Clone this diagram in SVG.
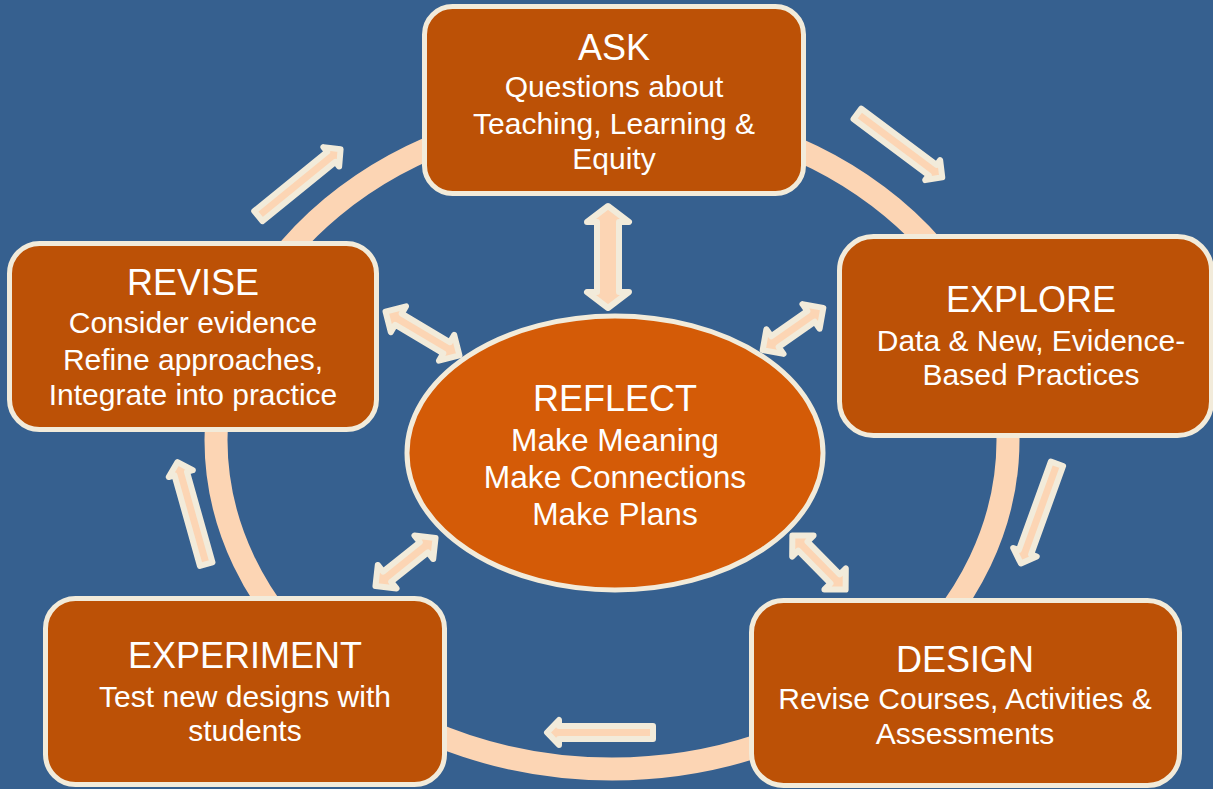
<svg xmlns="http://www.w3.org/2000/svg" xmlns:xlink="http://www.w3.org/1999/xlink" width="1213" height="789" viewBox="0 0 1213 789">
  <defs>
    <style>
      .bg { fill: #36608f; }
      .ring { fill: none; stroke: #fcd5b4; stroke-width: 23; }
      .box { fill: #bc5106; stroke: #f2ebda; stroke-width: 5; }
      .hub { fill: #d45b07; stroke: #f2ebda; stroke-width: 5; }
      .arrow { fill: #fcd5b4; stroke: #f2ebda; stroke-width: 6; stroke-linejoin: round; }
      text { font-family: "Liberation Sans", Arial, sans-serif; fill: #ffffff; text-anchor: middle; }
      .title { font-size: 36px; }
      .body { font-size: 30px; }
      .hub-body { font-size: 31.7px; }
    </style>
    <!-- one-way cycle arrow, tail at origin, pointing along +x -->
    <path id="step-arrow" d="M3,-6.5 H97 V-12.5 L109,0 L97,12.5 V6.5 H3 Z"/>
  </defs>

  <rect class="bg" x="0" y="0" width="1213" height="789"/>

  <!-- cycle ring behind the stage boxes -->
  <g id="cycle-ring">
    <ellipse class="ring" cx="612" cy="440" rx="396" ry="329"/>
  </g>

  <g id="connectors">
    <!-- one-way arrows around the cycle -->
    <use class="arrow" xlink:href="#step-arrow" href="#step-arrow" transform="translate(855,112) rotate(36.8)"/>
    <use class="arrow" xlink:href="#step-arrow" href="#step-arrow" transform="translate(1058,461) rotate(109.9)"/>
    <use class="arrow" xlink:href="#step-arrow" href="#step-arrow" transform="translate(656,732.5) rotate(180)"/>
    <use class="arrow" xlink:href="#step-arrow" href="#step-arrow" transform="translate(207,567) rotate(-105.7)"/>
    <use class="arrow" xlink:href="#step-arrow" href="#step-arrow" transform="translate(256,218) rotate(-39.1)"/>

    <!-- two-way arrows between REFLECT and each stage -->
    <path class="arrow" transform="translate(608,257) rotate(90)"
          d="M-51,0 L-35,-21 V-11 H35 V-21 L51,0 L35,21 V11 H-35 V21 Z"/>
    <path class="arrow" transform="translate(793,329) rotate(-34.9)"
          d="M-37,0 L-22,-15 V-6.5 H22 V-15 L37,0 L22,15 V6.5 H-22 V15 Z"/>
    <path class="arrow" transform="translate(422.5,333.5) rotate(30.7)"
          d="M-43,0 L-28,-15 V-6.5 H28 V-15 L43,0 L28,15 V6.5 H-28 V15 Z"/>
    <path class="arrow" transform="translate(405.5,562) rotate(-38.7)"
          d="M-38.5,0 L-23.5,-15 V-6.5 H23.5 V-15 L38.5,0 L23.5,15 V6.5 H-23.5 V15 Z"/>
    <path class="arrow" transform="translate(819,562.5) rotate(45.5)"
          d="M-38,0 L-23,-15 V-6.5 H23 V-15 L38,0 L23,15 V6.5 H-23 V15 Z"/>
  </g>

  <g id="ask">
    <rect class="box" x="424.5" y="6.5" width="379" height="187" rx="28"/>
    <text class="title" x="614" y="60">ASK</text>
    <text class="body" x="614" y="97">Questions about</text>
    <text class="body" x="614" y="134">Teaching, Learning &amp;</text>
    <text class="body" x="614" y="169">Equity</text>
  </g>

  <g id="explore">
    <rect class="box" x="839.5" y="236.5" width="372" height="199" rx="34"/>
    <text class="title" x="1031" y="312">EXPLORE</text>
    <text class="body" x="1031" y="351">Data &amp; New, Evidence-</text>
    <text class="body" x="1031" y="385">Based Practices</text>
  </g>

  <g id="design">
    <rect class="box" x="751.5" y="600.5" width="428" height="185" rx="32"/>
    <text class="title" x="965" y="672">DESIGN</text>
    <text class="body" x="965" y="709">Revise Courses, Activities &amp;</text>
    <text class="body" x="965" y="744">Assessments</text>
  </g>

  <g id="experiment">
    <rect class="box" x="45.5" y="598.5" width="399" height="186" rx="30"/>
    <text class="title" x="245" y="668">EXPERIMENT</text>
    <text class="body" x="245" y="707">Test new designs with</text>
    <text class="body" x="245" y="741">students</text>
  </g>

  <g id="revise">
    <rect class="box" x="9.5" y="243.5" width="367" height="186" rx="30"/>
    <text class="title" x="193" y="295">REVISE</text>
    <text class="body" x="193" y="333">Consider evidence</text>
    <text class="body" x="193" y="370">Refine approaches,</text>
    <text class="body" x="193" y="405">Integrate into practice</text>
  </g>

  <g id="reflect">
    <ellipse class="hub" cx="615" cy="453" rx="208" ry="137"/>
    <text class="title" x="615" y="411">REFLECT</text>
    <text class="hub-body" x="615" y="451">Make Meaning</text>
    <text class="hub-body" x="615" y="488">Make Connections</text>
    <text class="hub-body" x="615" y="525">Make Plans</text>
  </g>
</svg>
